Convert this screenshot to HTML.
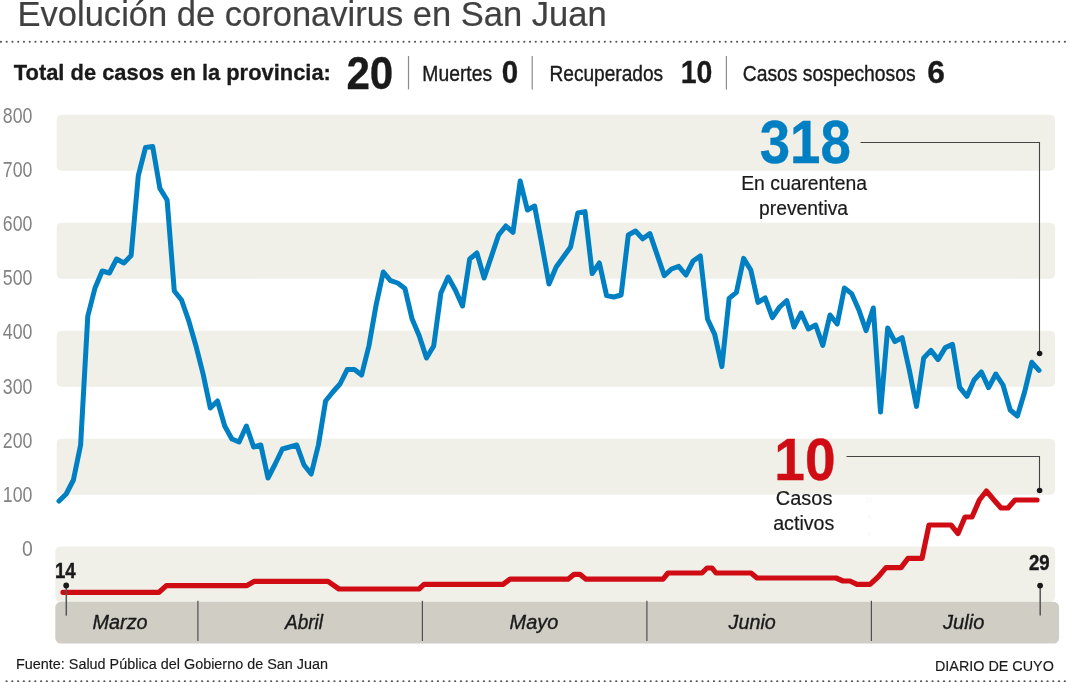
<!DOCTYPE html>
<html lang="es">
<head>
<meta charset="utf-8">
<title>Evolución de coronavirus en San Juan</title>
<style>
html,body{margin:0;padding:0;background:#fff;}
body{width:1070px;height:682px;overflow:hidden;}
svg{display:block;font-family:"Liberation Sans",Arial,Helvetica,sans-serif;}
</style>
</head>
<body>
<svg width="1070" height="682" viewBox="0 0 1070 682">
<rect width="1070" height="682" fill="#ffffff"/>
<!-- title -->
<text x="17.54" y="26.1" font-size="35" fill="#404040" stroke="#404040" stroke-width="0.2" textLength="589.05" lengthAdjust="spacingAndGlyphs">Evolución de coronavirus en San Juan</text>
<line x1="0.95" y1="41.8" x2="1066" y2="41.8" stroke="#505050" stroke-width="2.1" stroke-linecap="round" stroke-dasharray="0.01 5.741"/>
<!-- header -->
<text x="13.8" y="80.2" font-size="22.3" font-weight="bold" fill="#1a1a1a" stroke="#1a1a1a" stroke-width="0.3" textLength="317.06" lengthAdjust="spacingAndGlyphs">Total de casos en la provincia:</text>
<text x="346.39" y="88.7" font-size="46.5" font-weight="bold" fill="#1a1a1a" stroke="#1a1a1a" stroke-width="0.3" textLength="46.98" lengthAdjust="spacingAndGlyphs">20</text>
<line x1="408.5" y1="56" x2="408.5" y2="89.4" stroke="#8a8a8a" stroke-width="1.2"/>
<text x="422.36" y="80.55" font-size="22.9" fill="#1a1a1a" stroke="#1a1a1a" stroke-width="0.4" textLength="69.74" lengthAdjust="spacingAndGlyphs">Muertes</text>
<text x="501.78" y="83.4" font-size="32.2" font-weight="bold" fill="#1a1a1a" stroke="#1a1a1a" stroke-width="0.3" textLength="16.45" lengthAdjust="spacingAndGlyphs">0</text>
<line x1="532.2" y1="56" x2="532.2" y2="89.4" stroke="#8a8a8a" stroke-width="1.2"/>
<text x="549.47" y="80.55" font-size="22.9" fill="#1a1a1a" stroke="#1a1a1a" stroke-width="0.4" textLength="113.68" lengthAdjust="spacingAndGlyphs">Recuperados</text>
<text x="680.63" y="83.4" font-size="32.2" font-weight="bold" fill="#1a1a1a" stroke="#1a1a1a" stroke-width="0.3" textLength="31.69" lengthAdjust="spacingAndGlyphs">10</text>
<line x1="726.4" y1="56" x2="726.4" y2="89.4" stroke="#8a8a8a" stroke-width="1.2"/>
<text x="742.76" y="80.55" font-size="22.9" fill="#1a1a1a" stroke="#1a1a1a" stroke-width="0.4" textLength="172.87" lengthAdjust="spacingAndGlyphs">Casos sospechosos</text>
<text x="927.31" y="83.4" font-size="32.2" font-weight="bold" fill="#1a1a1a" stroke="#1a1a1a" stroke-width="0.3" textLength="17.68" lengthAdjust="spacingAndGlyphs">6</text>
<!-- bands -->
<rect x="56.6" y="114.7" width="998.5" height="56.0" rx="5" ry="5" fill="#f0f0e8"/>
<rect x="56.6" y="222.7" width="998.5" height="56.0" rx="5" ry="5" fill="#f0f0e8"/>
<rect x="56.6" y="330.7" width="998.5" height="56.0" rx="5" ry="5" fill="#f0f0e8"/>
<rect x="56.6" y="438.7" width="998.5" height="56.0" rx="5" ry="5" fill="#f0f0e8"/>
<rect x="55.3" y="546.4" width="999.8" height="55.4" rx="5" ry="5" fill="#f0f0e8"/>
<!-- month bar -->
<rect x="55.3" y="601.8" width="1003.8" height="41.8" rx="5.5" ry="5.5" fill="#d0cdc5"/>
<line x1="197.9" y1="600.8" x2="197.9" y2="641" stroke="#505050" stroke-width="1.2"/>
<line x1="422.4" y1="600.8" x2="422.4" y2="641" stroke="#505050" stroke-width="1.2"/>
<line x1="646.9" y1="600.8" x2="646.9" y2="641" stroke="#505050" stroke-width="1.2"/>
<line x1="871.4" y1="600.8" x2="871.4" y2="641" stroke="#505050" stroke-width="1.2"/>
<text x="92.6" y="629.3" font-size="19.5" font-style="italic" fill="#1a1a1a" stroke="#1a1a1a" stroke-width="0.35" textLength="54.99" lengthAdjust="spacingAndGlyphs">Marzo</text>
<text x="284.98" y="629.3" font-size="19.5" font-style="italic" fill="#1a1a1a" stroke="#1a1a1a" stroke-width="0.35" textLength="38.06" lengthAdjust="spacingAndGlyphs">Abril</text>
<text x="509.6" y="629.3" font-size="19.5" font-style="italic" fill="#1a1a1a" stroke="#1a1a1a" stroke-width="0.35" textLength="48.7" lengthAdjust="spacingAndGlyphs">Mayo</text>
<text x="728.6" y="629.3" font-size="19.5" font-style="italic" fill="#1a1a1a" stroke="#1a1a1a" stroke-width="0.35" textLength="47.23" lengthAdjust="spacingAndGlyphs">Junio</text>
<text x="943.0" y="629.3" font-size="19.5" font-style="italic" fill="#1a1a1a" stroke="#1a1a1a" stroke-width="0.35" textLength="41.31" lengthAdjust="spacingAndGlyphs">Julio</text>
<!-- y labels -->
<text x="2.79" y="123.1" font-size="22" fill="#828282" textLength="29.58" lengthAdjust="spacingAndGlyphs">800</text>
<text x="2.79" y="177.19" font-size="22" fill="#828282" textLength="29.58" lengthAdjust="spacingAndGlyphs">700</text>
<text x="2.79" y="231.28" font-size="22" fill="#828282" textLength="29.58" lengthAdjust="spacingAndGlyphs">600</text>
<text x="2.79" y="285.37" font-size="22" fill="#828282" textLength="29.58" lengthAdjust="spacingAndGlyphs">500</text>
<text x="2.79" y="339.46" font-size="22" fill="#828282" textLength="29.58" lengthAdjust="spacingAndGlyphs">400</text>
<text x="2.79" y="393.55" font-size="22" fill="#828282" textLength="29.58" lengthAdjust="spacingAndGlyphs">300</text>
<text x="2.79" y="447.64" font-size="22" fill="#828282" textLength="29.58" lengthAdjust="spacingAndGlyphs">200</text>
<text x="2.79" y="501.73" font-size="22" fill="#828282" textLength="29.58" lengthAdjust="spacingAndGlyphs">100</text>
<text x="22.12" y="555.82" font-size="22" fill="#828282" textLength="10.78" lengthAdjust="spacingAndGlyphs">0</text>
<!-- tiny ghost labels -->
<g font-size="5.5" fill="#f5f5f5" text-anchor="middle"><text x="869.4" y="502.4">10</text><text x="869.4" y="519.1">8</text><text x="869.4" y="536">6</text></g>
<!-- blue line -->
<polyline points="59.0,501.0 66.2,494.0 73.4,480.0 80.6,445.0 87.8,316.0 95.0,288.0 102.2,271.0 109.4,273.0 116.6,259.0 123.9,263.0 131.1,255.6 138.3,175.6 145.5,147.6 152.7,146.6 159.9,188.4 167.1,200.0 174.3,291.0 181.5,300.0 188.7,320.6 195.9,345.7 203.1,374.0 210.3,408.0 217.5,401.0 224.7,426.0 231.9,439.0 239.1,442.0 246.4,426.0 253.6,447.0 260.8,445.0 268.0,478.0 275.2,464.0 282.4,449.0 289.6,447.0 296.8,445.0 304.0,465.0 311.2,474.0 318.4,445.0 325.6,401.0 332.8,392.0 340.0,384.0 347.2,369.6 354.4,369.6 361.6,375.0 368.9,346.0 376.1,305.0 383.3,272.0 390.5,280.6 397.7,283.0 404.9,288.4 412.1,319.0 419.3,336.0 426.5,358.0 433.7,346.0 440.9,293.0 448.1,277.0 455.3,290.0 462.5,306.0 469.7,259.0 476.9,253.0 484.1,278.0 491.4,256.4 498.6,235.0 505.8,226.0 513.0,232.4 520.2,181.0 527.4,210.0 534.6,206.0 541.8,244.4 549.0,284.0 556.2,267.0 563.4,257.0 570.6,247.0 577.8,213.0 585.0,211.6 592.2,273.6 599.4,263.0 606.6,295.6 613.9,297.0 621.1,295.0 628.3,235.0 635.5,231.0 642.7,238.8 649.9,233.6 657.1,254.6 664.3,275.6 671.5,269.0 678.7,266.4 685.9,275.0 693.1,261.0 700.3,256.0 707.5,319.0 714.7,334.4 721.9,366.6 729.1,298.4 736.4,292.4 743.6,258.4 750.8,270.0 758.0,302.4 765.2,298.0 772.4,317.6 779.6,307.0 786.8,300.6 794.0,327.0 801.2,313.0 808.4,329.0 815.6,325.0 822.8,345.4 830.0,315.0 837.2,324.0 844.4,288.0 851.6,293.6 858.9,310.0 866.1,330.6 873.3,308.0 880.5,412.0 887.7,328.0 894.9,341.6 902.1,337.6 909.3,370.0 916.5,406.4 923.7,358.0 930.9,350.4 938.1,359.6 945.3,347.6 952.5,344.4 959.7,387.4 966.9,396.4 974.1,380.0 981.4,372.0 988.6,387.6 995.8,374.0 1003.0,385.0 1010.2,410.0 1017.4,416.0 1024.6,392.0 1031.8,362.3 1039.0,370.4" fill="none" stroke="#007fc3" stroke-width="5" stroke-linejoin="round" stroke-linecap="round"/>
<!-- red line -->
<polyline points="63,592.3 159,592.3 166.4,585.6 247,585.6 254,581.4 328,581.4 339,589 419,589 424,584.4 503,584.4 510,579.2 568,579.2 574,574.4 580,574.4 586,579.2 663,579.2 668,573 702,573 707,568 712,568 716,573 751,573 757,578 836,578 843,581 850,581 857,584.4 870,584.4 878,577 886,567.6 901,567.6 908,558.4 922,558.4 929,525 951,525 958,533.6 965,517 972,517 979.4,500 986.4,491 994,500 1001,508 1008,508 1015,500 1037,500" fill="none" stroke="#cf0c14" stroke-width="5.2" stroke-linejoin="round" stroke-linecap="round"/>
<!-- annotations -->
<text x="759.69" y="163.2" font-size="60.2" font-weight="bold" fill="#007fc3" stroke="#007fc3" stroke-width="0.4" textLength="91.1" lengthAdjust="spacingAndGlyphs">318</text>
<text x="741.2" y="190.4" font-size="19.4" fill="#1a1a1a" stroke="#1a1a1a" stroke-width="0.2" textLength="125.84" lengthAdjust="spacingAndGlyphs">En cuarentena</text>
<text x="759.11" y="215.0" font-size="19.4" fill="#1a1a1a" stroke="#1a1a1a" stroke-width="0.2" textLength="88.97" lengthAdjust="spacingAndGlyphs">preventiva</text>
<polyline points="860.5,142.5 1039.5,142.5 1039.5,353" stroke="#444" stroke-width="1.1" fill="none"/>
<circle cx="1039.6" cy="353.5" r="2.8" fill="#1a1a1a"/>
<text x="774.35" y="479.6" font-size="60" font-weight="bold" fill="#cf0c14" stroke="#cf0c14" stroke-width="0.4" textLength="61.15" lengthAdjust="spacingAndGlyphs">10</text>
<text x="775.87" y="504.5" font-size="19.4" fill="#1a1a1a" stroke="#1a1a1a" stroke-width="0.2" textLength="56.52" lengthAdjust="spacingAndGlyphs">Casos</text>
<text x="773.19" y="529.5" font-size="19.4" fill="#1a1a1a" stroke="#1a1a1a" stroke-width="0.2" textLength="61.18" lengthAdjust="spacingAndGlyphs">activos</text>
<polyline points="846.5,456.5 1039.5,456.5 1039.5,490" stroke="#444" stroke-width="1.1" fill="none"/>
<circle cx="1039.6" cy="490.5" r="2.8" fill="#1a1a1a"/>
<!-- date markers -->
<text x="55.03" y="577.9" font-size="21.3" font-weight="bold" fill="#1a1a1a" stroke="#1a1a1a" stroke-width="0.4" textLength="20.71" lengthAdjust="spacingAndGlyphs">14</text>
<line x1="66.3" y1="585.4" x2="66.3" y2="615.6" stroke="#555" stroke-width="1.5"/>
<circle cx="66.2" cy="585.5" r="2.9" fill="#1a1a1a"/>
<text x="1029.0" y="570.1" font-size="21.3" font-weight="bold" fill="#1a1a1a" stroke="#1a1a1a" stroke-width="0.4" textLength="20.71" lengthAdjust="spacingAndGlyphs">29</text>
<line x1="1040.2" y1="585.4" x2="1040.2" y2="615.6" stroke="#555" stroke-width="1.5"/>
<circle cx="1040.1" cy="585.6" r="2.9" fill="#1a1a1a"/>
<!-- footer -->
<text x="16.05" y="668.6" font-size="15.2" fill="#1a1a1a" stroke="#1a1a1a" stroke-width="0.15" textLength="311.88" lengthAdjust="spacingAndGlyphs">Fuente: Salud Pública del Gobierno de San Juan</text>
<text x="934.97" y="671.3" font-size="15.5" fill="#1a1a1a" stroke="#1a1a1a" stroke-width="0.15" textLength="118.83" lengthAdjust="spacingAndGlyphs">DIARIO DE CUYO</text>
<line x1="6.6" y1="681.3" x2="1066" y2="681.3" stroke="#505050" stroke-width="2.1" stroke-linecap="round" stroke-dasharray="0.01 5.741"/>
</svg>
</body>
</html>
